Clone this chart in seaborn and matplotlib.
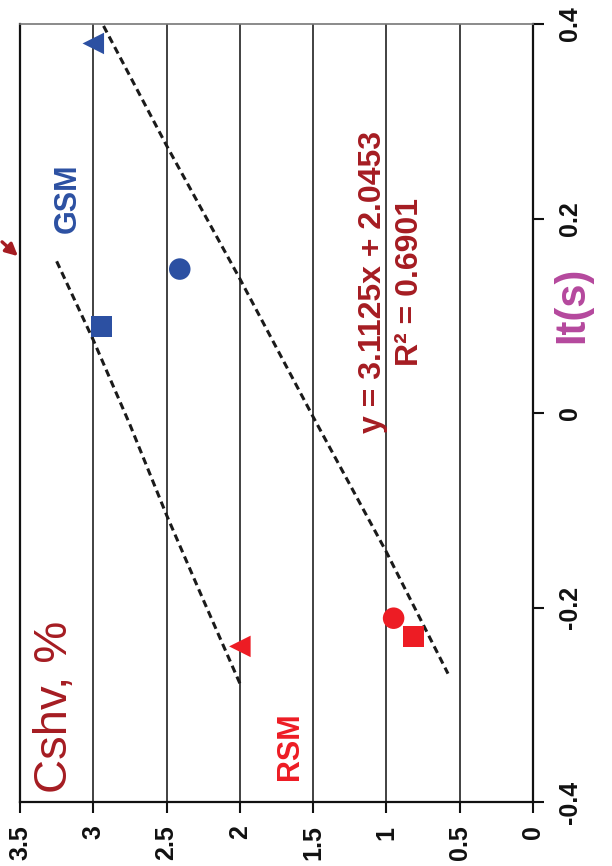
import matplotlib
matplotlib.use('Agg')
import matplotlib.pyplot as plt
import seaborn as sns
import pandas as pd

# values read from the (rotated) reference chart
# It(s) on the vertical axis, Cshv % on the horizontal axis (reversed)
gsm_cshv = [3.00, 2.41, 2.945]
gsm_it = [0.380, 0.148, 0.089]
rsm_cshv = [2.00, 0.951, 0.817]
rsm_it = [-0.240, -0.211, -0.230]
point_markers = ['<', 'o', 's']

upper_band_cshv = [3.25, 3.00, 2.75, 2.50, 2.25, 2.00]
upper_band_it = [0.156, 0.075, -0.012, -0.105, -0.192, -0.278]
lower_band_cshv = [2.93, 2.50, 2.00, 1.50, 1.00, 0.58]
lower_band_it = [0.398, 0.275, 0.138, -0.004, -0.143, -0.268]

cshv_ticks = [3.5, 3, 2.5, 2, 1.5, 1, 0.5, 0]
it_ticks = [-0.4, -0.2, 0, 0.2, 0.4]

blue = '#2c50a2'
red = '#ed1c24'
dark_red = '#a51c22'
magenta = '#b5489d'

sns.set_style('white')
plt.rcParams['font.family'] = ['Liberation Sans', 'DejaVu Sans']

fig = plt.figure(figsize=(6.12, 8.66), dpi=100)
ax = fig.add_axes([20/612, 1-802/866, (533-20)/612, (802-24)/866])

for c in [0.5, 1, 1.5, 2, 2.5, 3]:
    ax.axvline(c, color='#333333', lw=1.3, zorder=0)

upper = pd.DataFrame({'cshv': upper_band_cshv, 'it': upper_band_it})
lower = pd.DataFrame({'cshv': lower_band_cshv, 'it': lower_band_it})
for band in [upper, lower]:
    sns.lineplot(data=band, x='cshv', y='it', sort=False, ax=ax, color='#1a1a1a',
                 lw=2.2, linestyle=(0, (2.4, 1.5)), zorder=2)

sizes = {'<': 15.5, 'o': 15.5, 's': 14.8}
for cs, it, col in [(gsm_cshv, gsm_it, blue), (rsm_cshv, rsm_it, red)]:
    for x, y, m in zip(cs, it, point_markers):
        sns.scatterplot(x=[x], y=[y], marker=m, s=sizes[m]**2, color=col,
                        edgecolor='none', linewidth=0, ax=ax, zorder=3)

ax.set_xlim(3.5, 0)
ax.set_ylim(-0.4, 0.4)
ax.set_xticks(cshv_ticks)
ax.set_xticklabels(['3.5', '3', '2.5', '2', '1.5', '1', '0.5', '0'],
                   rotation=90, fontsize=18, fontweight='bold', va='top')
ax.set_yticks(it_ticks)
ax.set_yticklabels(['-0.4', '-0.2', '0', '0.2', '0.4'], rotation=90,
                   fontsize=18, fontweight='bold', va='center')
ax.yaxis.tick_right()
ax.tick_params(axis='x', direction='out', length=8, width=1.5, pad=9, bottom=True, colors='#111111')
ax.tick_params(axis='y', direction='out', length=8, width=1.5, pad=10, right=True, left=False, colors='#111111')
ax.set_xlabel('')
ax.set_ylabel('')

for s in ['bottom', 'right', 'left']:
    ax.spines[s].set_color('#111111')
    ax.spines[s].set_linewidth(1.6)
ax.spines['top'].set_color('#777777')
ax.spines['top'].set_linewidth(1.2)

ax.text(0.094, 0.776, 'GSM', transform=ax.transAxes, rotation=90, color=blue,
        fontsize=22, fontweight='bold', ha='center', va='center')
ax.text(0.526, 0.072, 'RSM', transform=ax.transAxes, rotation=90, color=red,
        fontsize=22, fontweight='bold', ha='center', va='center')
ax.text(0.068, 0.122, 'Cshv, %', transform=ax.transAxes, rotation=90, color=dark_red,
        fontsize=34, ha='center', va='center')
ax.text(0.688, 0.668, 'y = 3.1125x + 2.0453', transform=ax.transAxes, rotation=90,
        color=dark_red, fontsize=23, fontweight='bold', ha='center', va='center')
ax.text(0.760, 0.668, 'R² = 0.6901', transform=ax.transAxes, rotation=90,
        color=dark_red, fontsize=23, fontweight='bold', ha='center', va='center')

fig.text(572/612, 1-305/866, 'It(s)', rotation=90, color=magenta, fontsize=30,
         fontweight='bold', ha='center', va='center')

ax.annotate('', xy=(20, 866-258), xytext=(0, 866-240), xycoords='figure pixels',
            textcoords='figure pixels',
            arrowprops=dict(arrowstyle='-|>', color=dark_red, lw=2.4, mutation_scale=18))

plt.savefig('out.png', dpi=100)
